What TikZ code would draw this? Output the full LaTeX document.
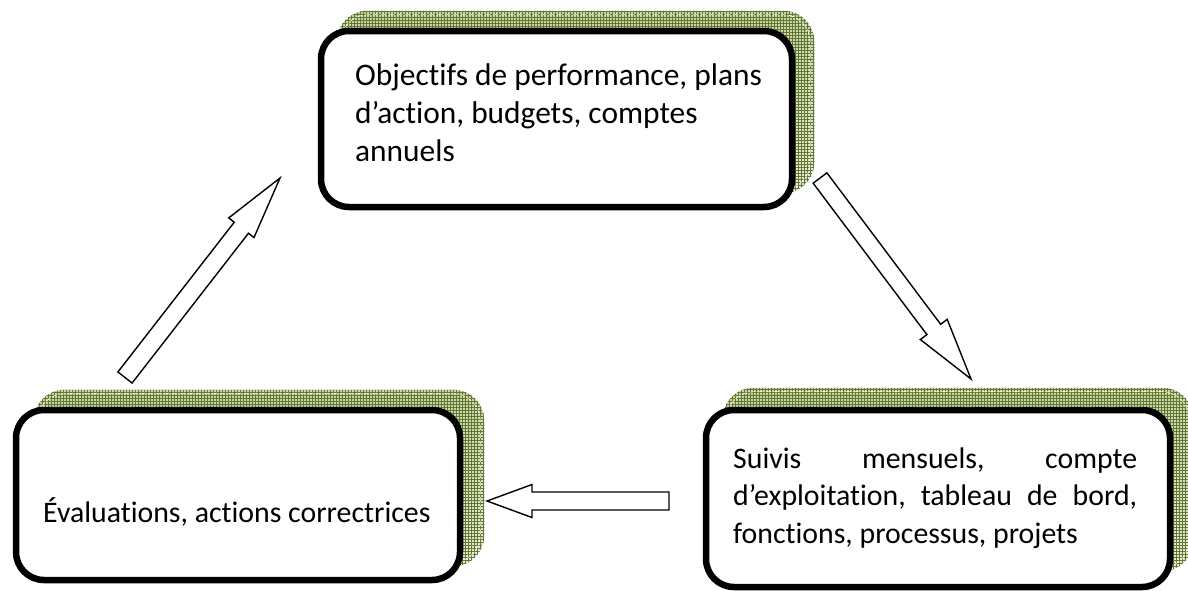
\documentclass[tikz,border=0pt]{standalone}
\usepackage{fontspec}
\setmainfont{Carlito}[Ligatures={NoCommon,NoRequired,NoContextual}]
\usetikzlibrary{calc,patterns,backgrounds}

\definecolor{olivelight}{HTML}{C6D5A4}
\definecolor{olivefade}{HTML}{E4ECD4}
\definecolor{olivegrid}{HTML}{637634}

\tikzset{
  panel/.style={draw=black, line width=6.5pt, rounded corners=28pt, fill=white, inner sep=0pt},
  txt/.style={inner sep=0pt, font=\fontsize{29.8}{37.5}\selectfont},
  bigtxt/.style={inner sep=0pt, font=\fontsize{31.4}{38}\selectfont},
  blockarrow/.style={draw=black, line width=1.4pt, fill=white, line join=miter},
  shadowshade/.style={rounded corners=31pt, top color=olivelight, bottom color=olivefade},
  shadowgrid/.style={rounded corners=31pt, pattern=grid, pattern color=olivegrid},
  shadowedge/.style={rounded corners=27pt, draw=white, line width=0.6pt, dash pattern=on 5pt off 3pt},
}

% hatched offset shadow behind a panel: #1 panel name, #2 offset
\newcommand\panelshadow[2]{%
  \begin{scope}[on background layer]
    \path[shadowshade] ($(#1.south west)+#2$) rectangle ($(#1.north east)+#2$);
    \path[shadowgrid]  ($(#1.south west)+#2$) rectangle ($(#1.north east)+#2$);
    \path[shadowedge]  ($(#1.south west)+#2+(4,-4)$) rectangle ($(#1.north east)+#2+(-4,4)$);
  \end{scope}}

% outlined block arrow from tail #1 to tip #2;
% #3 half shaft width, #4 half head width, #5 head length
\newcommand\blockarrowdraw[5]{%
  \coordinate (#2-base) at ($(#2)!#5!(#1)$);
  \draw[blockarrow]
    ($(#1)!#3!90:(#2)$) -- ($(#2-base)!#3!90:(#2)$) -- ($(#2-base)!#4!90:(#2)$)
    -- (#2)
    -- ($(#2-base)!#4!-90:(#2)$) -- ($(#2-base)!#3!-90:(#2)$) -- ($(#1)!#3!-90:(#2)$)
    -- cycle;}

\begin{document}
\begin{tikzpicture}[x=1pt, y=-1pt]
  \clip (0,0) rectangle (1188,590);
  \begin{scope}[on background layer]
    \fill[white] (0,0) rectangle (1188,590);
  \end{scope}

  % the three panels of the cycle
  \node[panel, minimum width=471pt, minimum height=176pt] (plan)  at (556.5,119) {};
  \node[panel, minimum width=444pt, minimum height=170pt] (eval)  at (238,495)   {};
  \node[panel, minimum width=464pt, minimum height=177pt] (suivi) at (938,498.5) {};

  \panelshadow{plan}{(19,-17)}
  \panelshadow{eval}{(21,-17)}
  \panelshadow{suivi}{(20,-19)}

  % panel texts
  \node[bigtxt, anchor=base west] (plantext) at (355,85)
    {\parbox[t]{430pt}{\raggedright Objectifs de performance, plans\\
     d’action, budgets, comptes\\ annuels}};
  \node[txt, anchor=base west] (evaltext) at (43,522)
    {Évaluations, actions correctrices};
  \node[txt, anchor=base west] (suivitext) at (733,468)
    {\parbox[t]{404pt}{%
      \makebox[404pt][l]{Suivis\hfill mensuels,\hfill compte}\\
      \makebox[404pt][l]{d’exploitation,\hfill tableau\hfill de\hfill bord,}\\
      fonctions, processus, projets}};

  % arrows of the cycle
  \coordinate (upTail)   at (125,377.5);
  \coordinate (upTip)    at (280,178);
  \coordinate (downTail) at (820,178);
  \coordinate (downTip)  at (971,379);
  \coordinate (leftTail) at (669,501);
  \coordinate (leftTip)  at (487,501);

  \blockarrowdraw{upTail}{upTip}{9pt}{16pt}{63pt}
  \blockarrowdraw{downTail}{downTip}{8.6pt}{16.8pt}{62pt}
  \blockarrowdraw{leftTail}{leftTip}{9pt}{16.5pt}{45pt}
\end{tikzpicture}
\end{document}
